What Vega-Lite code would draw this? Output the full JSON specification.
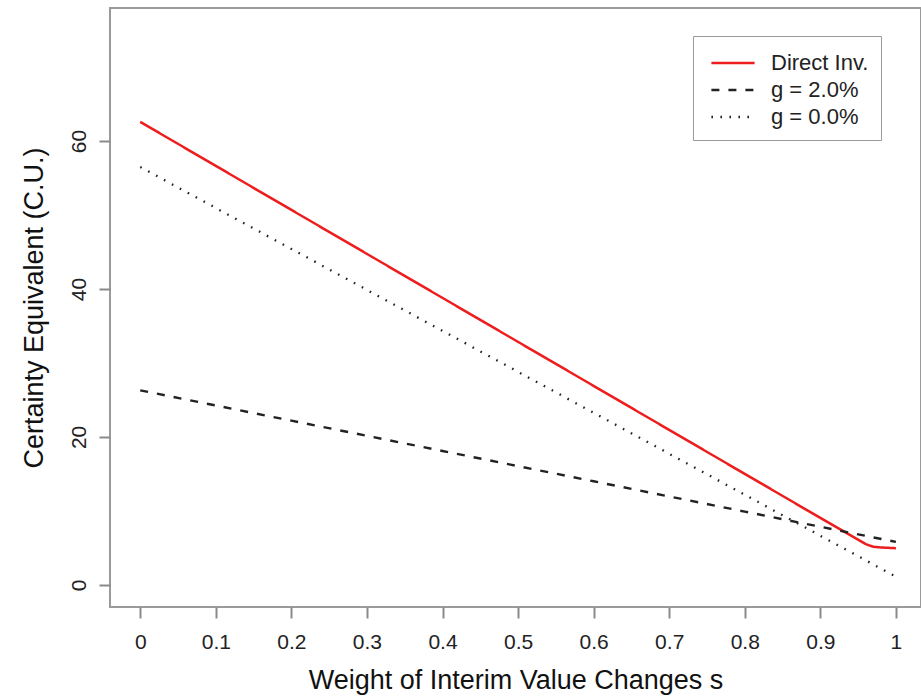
{
  "$schema": "https://vega.github.io/schema/vega-lite/v6.json",
  "autosize": "none",
  "width": 811,
  "height": 599,
  "padding": {"left": 110, "top": 8, "right": 0, "bottom": 90},
  "background": "white",
  "config": {
    "font": "Liberation Sans",
    "view": {"stroke": "#9a9a9a", "strokeWidth": 2},
    "axis": {"grid": false, "domain": false, "tickColor": "#8a8a8a", "tickWidth": 2, "tickSize": 11, "labelColor": "#222222", "titleColor": "#111111", "labelFont": "Liberation Sans", "titleFont": "Liberation Sans", "titleFontWeight": "normal"}
  },
  "data": {"values": [
    {"s": 0.0, "ce": 62.6, "series": "Direct Inv."},
    {"s": 0.1, "ce": 56.65, "series": "Direct Inv."},
    {"s": 0.2, "ce": 50.7, "series": "Direct Inv."},
    {"s": 0.3, "ce": 44.75, "series": "Direct Inv."},
    {"s": 0.4, "ce": 38.8, "series": "Direct Inv."},
    {"s": 0.5, "ce": 32.85, "series": "Direct Inv."},
    {"s": 0.6, "ce": 26.9, "series": "Direct Inv."},
    {"s": 0.7, "ce": 20.95, "series": "Direct Inv."},
    {"s": 0.8, "ce": 15.0, "series": "Direct Inv."},
    {"s": 0.9, "ce": 9.05, "series": "Direct Inv."},
    {"s": 0.95, "ce": 6.1, "series": "Direct Inv."},
    {"s": 0.96, "ce": 5.5, "series": "Direct Inv."},
    {"s": 0.97, "ce": 5.15, "series": "Direct Inv."},
    {"s": 0.98, "ce": 5.05, "series": "Direct Inv."},
    {"s": 1.0, "ce": 4.95, "series": "Direct Inv."},
    {"s": 0.0, "ce": 26.3, "series": "g = 2.0%"},
    {"s": 0.1, "ce": 24.25, "series": "g = 2.0%"},
    {"s": 0.2, "ce": 22.2, "series": "g = 2.0%"},
    {"s": 0.3, "ce": 20.15, "series": "g = 2.0%"},
    {"s": 0.4, "ce": 18.1, "series": "g = 2.0%"},
    {"s": 0.5, "ce": 16.05, "series": "g = 2.0%"},
    {"s": 0.6, "ce": 14.0, "series": "g = 2.0%"},
    {"s": 0.7, "ce": 11.95, "series": "g = 2.0%"},
    {"s": 0.8, "ce": 9.9, "series": "g = 2.0%"},
    {"s": 0.9, "ce": 7.85, "series": "g = 2.0%"},
    {"s": 1.0, "ce": 5.8, "series": "g = 2.0%"},
    {"s": 0.0, "ce": 56.5, "series": "g = 0.0%"},
    {"s": 0.1, "ce": 50.96, "series": "g = 0.0%"},
    {"s": 0.2, "ce": 45.42, "series": "g = 0.0%"},
    {"s": 0.3, "ce": 39.88, "series": "g = 0.0%"},
    {"s": 0.4, "ce": 34.34, "series": "g = 0.0%"},
    {"s": 0.5, "ce": 28.8, "series": "g = 0.0%"},
    {"s": 0.6, "ce": 23.26, "series": "g = 0.0%"},
    {"s": 0.7, "ce": 17.72, "series": "g = 0.0%"},
    {"s": 0.8, "ce": 12.18, "series": "g = 0.0%"},
    {"s": 0.9, "ce": 6.64, "series": "g = 0.0%"},
    {"s": 1.0, "ce": 1.1, "series": "g = 0.0%"}
  ]},
  "mark": {"type": "line", "clip": true, "strokeCap": "butt"},
  "encoding": {
    "x": {"field": "s", "type": "quantitative", "scale": {"domain": [-0.04, 1.0332], "nice": false, "zero": false},
      "axis": {"values": [0, 0.1, 0.2, 0.3, 0.4, 0.5, 0.6, 0.7, 0.8, 0.9, 1], "labelExpr": "datum.value == 0 ? '0' : datum.value == 1 ? '1' : format(datum.value, '.1f')", "labelFontSize": 21, "labelPadding": 13, "title": "Weight of Interim Value Changes s", "titleFontSize": 27, "titlePadding": 15}},
    "y": {"field": "ce", "type": "quantitative", "scale": {"domain": [-3, 78], "nice": false, "zero": false},
      "axis": {"values": [0, 20, 40, 60], "labelAngle": -90, "labelAlign": "center", "labelBaseline": "bottom", "labelFontSize": 21, "labelPadding": 10, "title": "Certainty Equivalent (C.U.)", "titleFontSize": 27, "titlePadding": 20}},
    "color": {"field": "series", "type": "nominal", "sort": null,
      "scale": {"domain": ["Direct Inv.", "g = 2.0%", "g = 0.0%"], "range": ["#ee1c1c", "#222222", "#222222"]},
      "legend": {"title": null, "orient": "none", "legendX": 583, "legendY": 28, "symbolType": "M-1.6,0L1.6,0", "symbolSize": 729, "symbolStrokeWidth": 2.2, "symbolFillColor": "transparent", "labelFontSize": 22, "labelColor": "#222222", "rowPadding": 1, "padding": 12, "strokeColor": "#9a9a9a", "symbolOffset": 13, "labelOffset": 23, "labelExpr": "datum.label + '\u00a0\u00a0\u00a0'"}},
    "strokeDash": {"field": "series", "type": "nominal", "sort": null,
      "scale": {"domain": ["Direct Inv.", "g = 2.0%", "g = 0.0%"], "range": [[1, 0], [8, 9], [1.6, 7.4]]},
      "legend": null},
    "strokeWidth": {"field": "series", "type": "nominal",
      "scale": {"domain": ["Direct Inv.", "g = 2.0%", "g = 0.0%"], "range": [2.5, 2.3, 2]}, "legend": null}
  }
}
